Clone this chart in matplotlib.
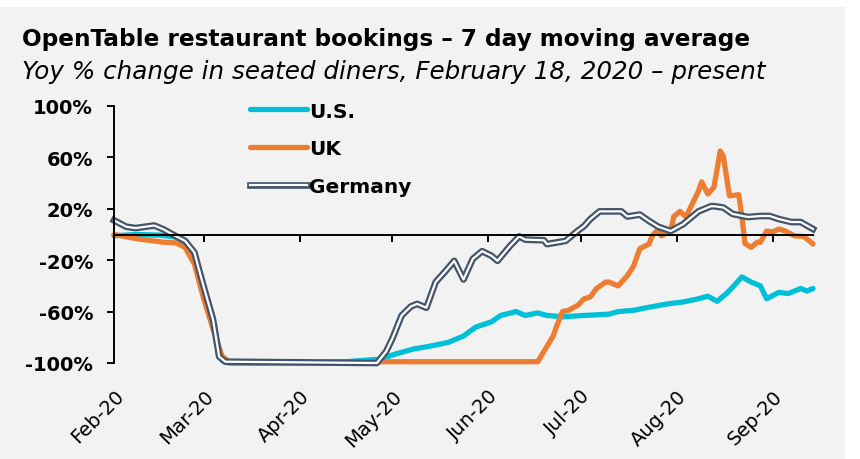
import matplotlib
matplotlib.use("Agg")
import matplotlib.pyplot as plt
import matplotlib.patheffects as pe
from matplotlib.patches import Rectangle
import pandas as pd

plt.rcParams["font.family"] = ["DejaVu Sans"]

# days since Feb 18, 2020 and yoy % change
us_days = [0, 7, 15, 20, 25, 28, 31, 34, 35, 37, 70, 75, 86, 91, 97, 102, 108, 113,
           117, 122, 125, 130, 133, 137, 140, 145, 152, 160, 163, 168, 173, 179, 184,
           189, 192, 195, 198, 200, 203, 206, 209, 211, 215, 218, 222, 224, 226]
us_vals = [-1, 0, -0.5, -2, -11, -31, -62, -89, -98, -100, -100, -99, -97, -93, -89, -87,
           -84, -79, -72, -68, -63, -60, -63, -61, -63, -64, -63, -62, -60, -59, -56.6,
           -54, -52.5, -50, -48, -52, -46, -41, -33, -37, -40, -50, -45, -46, -42, -44, -42]

uk_days = [0, 8, 16, 20, 23, 26, 29, 33, 35, 38, 80, 137, 139, 140, 142, 143, 145, 147,
           150, 152, 154, 156, 159, 160, 163, 166, 168, 170, 173, 174, 176, 177, 180,
           181, 183, 185, 186, 188, 189, 190, 192, 194, 196, 197, 199, 202, 203, 204,
           206, 208, 209, 211, 213, 215, 217, 220, 223, 226]
uk_vals = [0, -3.5, -6, -6.5, -10, -23, -50, -81, -95, -100, -99, -99, -91, -87, -79, -72,
           -60, -59, -55, -50, -48.6, -42, -37, -37, -40, -32, -24.5, -11, -7.4, -1, 4,
           -1, 2.7, 14, 18, 13.6, 19, 29, 34, 41, 31.5, 37, 65, 61, 30, 31, 14, -7,
           -10, -6, -6, 2.7, 2, 4.3, 2.7, -1, -1.5, -7.4]

de_days = [0, 4, 7, 13, 16, 19, 23, 26, 28, 32, 34, 36, 85, 88, 90, 93, 96, 98, 101,
           104, 107, 110, 113, 116, 119, 122, 124, 128, 131, 133, 139, 140, 146, 150,
           152, 154, 157, 164, 166, 170, 173, 176, 180, 184, 189, 193, 194, 197, 200,
           205, 209, 212, 215, 219, 222, 226]
de_vals = [11, 6, 5, 7, 4, 0, -5, -14, -32, -66, -95, -99, -100, -91, -81, -63, -56, -54,
           -57, -37, -29, -20.5, -35, -19, -13, -16.5, -20.5, -9, -1.5, -4, -4.5, -7.5,
           -5, 3, 6.6, 12, 18, 18, 14, 15.5, 10.5, 6, 2.7, 8, 18, 22, 22, 21, 16, 13.6,
           14.4, 14.4, 12, 9.7, 9.7, 4.3]

y_ticks = [100, 60, 20, -20, -60, -100]
start = pd.Timestamp("2020-02-18")
month_ticks = pd.date_range(start, periods=8, freq=pd.DateOffset(months=1))


def to_dates(days):
    return [start + pd.Timedelta(days=d) for d in days]


bg = "#f2f2f2"
fig = plt.figure(figsize=(8.6, 4.6), dpi=100, facecolor="white")
fig.patches.append(Rectangle((0, 0), 845 / 860, 452 / 460, transform=fig.transFigure,
                             facecolor=bg, edgecolor="none", zorder=-10))
ax = fig.add_axes([114 / 860, 1 - 364 / 460, (813 - 114) / 860, 257 / 460])
ax.set_facecolor(bg)

ax.plot(to_dates(us_days), us_vals, color="#00c0d8", lw=3.8, label="U.S.",
        solid_capstyle="round", solid_joinstyle="round", clip_on=False)
ax.plot(to_dates(uk_days), uk_vals, color="#ed7d31", lw=3.8, label="UK",
        solid_capstyle="round", solid_joinstyle="round", clip_on=False)
ax.plot(to_dates(de_days), de_vals, color="white", lw=1.6, label="Germany",
        solid_joinstyle="round", clip_on=False,
        path_effects=[pe.Stroke(linewidth=4.8, foreground="#44546a"), pe.Normal()])

ax.set_xlim(start, start + pd.Timedelta(days=226))
ax.set_ylim(-100, 100)

ax.spines["top"].set_visible(False)
ax.spines["right"].set_visible(False)
ax.spines["left"].set_linewidth(1.4)
ax.spines["bottom"].set_position(("data", 0))
ax.spines["bottom"].set_linewidth(1.4)

ax.set_yticks(y_ticks)
ax.set_yticklabels([f"{v}%" for v in y_ticks])
ax.set_xticks(month_ticks)
ax.set_xticklabels([d.strftime("%b-%y") for d in month_ticks], rotation=45,
                   ha="right", rotation_mode="anchor")
ax.tick_params(axis="y", length=5, width=1.4, pad=10, labelsize=14)
ax.tick_params(axis="x", length=5, width=1.4, pad=104, labelsize=14)
for lab in ax.get_yticklabels():
    lab.set_fontweight("semibold")

leg = ax.legend(loc="upper left", bbox_to_anchor=(0.168, 1.088), frameon=False,
                handlelength=2.85, handletextpad=0.1, labelspacing=0.92,
                prop={"size": 14.5, "weight": "bold"})

fig.text(22 / 860, 1 - 40 / 460, "OpenTable restaurant bookings \u2013 7 day moving average",
         fontsize=16.7, fontweight="bold", va="center")
fig.text(22 / 860, 1 - 72 / 460, "Yoy % change in seated diners, February 18, 2020 \u2013 present",
         fontsize=17.7, style="italic", va="center")

fig.savefig("out.png", dpi=100, facecolor=fig.get_facecolor())
